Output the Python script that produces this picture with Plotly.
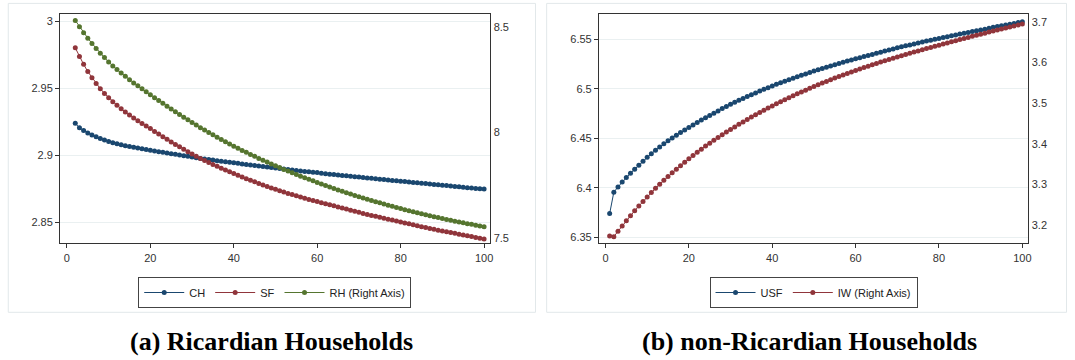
import plotly.graph_objects as go

# ---------------- data ----------------
t_left = list(range(2, 101))
t_right = list(range(1, 101))

CH = [2.9237, 2.9205, 2.9183, 2.9166, 2.9151, 2.9137, 2.9124, 2.9113, 2.9102,
      2.9093, 2.9085, 2.9078, 2.9071, 2.9065, 2.9059, 2.9053, 2.9047, 2.9042, 2.9037,
      2.9031, 2.9026, 2.9021, 2.9016, 2.9011, 2.9006, 2.9001, 2.8996, 2.8991, 2.8986,
      2.8981, 2.8976, 2.8971, 2.8967, 2.8963, 2.8959, 2.8955, 2.8951, 2.8947, 2.8943,
      2.8939, 2.8935, 2.8931, 2.8927, 2.8923, 2.8919, 2.8915, 2.8911, 2.8908, 2.8905,
      2.8901, 2.8897, 2.8893, 2.8889, 2.8885, 2.8882, 2.8879, 2.8876, 2.8873, 2.8870,
      2.8866, 2.8862, 2.8858, 2.8855, 2.8852, 2.8849, 2.8846, 2.8843, 2.8840, 2.8837,
      2.8833, 2.8830, 2.8827, 2.8824, 2.8821, 2.8818, 2.8815, 2.8812, 2.8809, 2.8806,
      2.8803, 2.8800, 2.8797, 2.8794, 2.8791, 2.8788, 2.8785, 2.8782, 2.8779, 2.8776,
      2.8773, 2.8770, 2.8767, 2.8764, 2.8761, 2.8758, 2.8755, 2.8752, 2.8749, 2.8747]

SF = [2.9800, 2.9735, 2.9677, 2.9623, 2.9577, 2.9534, 2.9495, 2.9460, 2.9428,
      2.9399, 2.9372, 2.9346, 2.9322, 2.9299, 2.9277, 2.9256, 2.9236, 2.9217, 2.9198,
      2.9177, 2.9157, 2.9137, 2.9118, 2.9099, 2.9080, 2.9062, 2.9044, 2.9026, 2.9008,
      2.8992, 2.8976, 2.8961, 2.8946, 2.8931, 2.8917, 2.8903, 2.8889, 2.8876, 2.8863,
      2.8850, 2.8837, 2.8825, 2.8813, 2.8801, 2.8789, 2.8778, 2.8767, 2.8756, 2.8745,
      2.8735, 2.8725, 2.8715, 2.8706, 2.8697, 2.8688, 2.8679, 2.8670, 2.8662, 2.8654,
      2.8646, 2.8638, 2.8630, 2.8622, 2.8614, 2.8606, 2.8598, 2.8590, 2.8582, 2.8574,
      2.8566, 2.8558, 2.8551, 2.8544, 2.8537, 2.8530, 2.8523, 2.8516, 2.8509, 2.8502,
      2.8495, 2.8488, 2.8481, 2.8474, 2.8467, 2.8460, 2.8453, 2.8447, 2.8441, 2.8435,
      2.8429, 2.8423, 2.8417, 2.8411, 2.8405, 2.8399, 2.8393, 2.8387, 2.8381, 2.8375]

RH = [8.530, 8.500, 8.472, 8.446, 8.421, 8.397, 8.375, 8.354, 8.333,
      8.314, 8.297, 8.281, 8.265, 8.249, 8.234, 8.220, 8.206, 8.192, 8.178,
      8.164, 8.150, 8.137, 8.123, 8.110, 8.097, 8.084, 8.071, 8.059, 8.046,
      8.034, 8.022, 8.011, 7.999, 7.988, 7.977, 7.966, 7.955, 7.945, 7.934,
      7.924, 7.914, 7.905, 7.895, 7.886, 7.876, 7.867, 7.859, 7.850, 7.841,
      7.833, 7.824, 7.816, 7.808, 7.800, 7.792, 7.784, 7.777, 7.770, 7.762,
      7.755, 7.748, 7.741, 7.734, 7.727, 7.721, 7.714, 7.708, 7.701, 7.695,
      7.689, 7.683, 7.677, 7.671, 7.666, 7.660, 7.654, 7.649, 7.644, 7.639,
      7.633, 7.628, 7.624, 7.619, 7.614, 7.609, 7.605, 7.600, 7.596, 7.592,
      7.587, 7.583, 7.579, 7.575, 7.571, 7.567, 7.564, 7.560, 7.556, 7.553]

USF = [6.3739, 6.3955, 6.4009, 6.4058, 6.4104, 6.4147, 6.4187, 6.4228, 6.4268, 6.4308,
       6.4345, 6.4380, 6.4413, 6.4444, 6.4474, 6.4503, 6.4531, 6.4558, 6.4584, 6.4609,
       6.4635, 6.4660, 6.4684, 6.4708, 6.4731, 6.4754, 6.4777, 6.4800, 6.4822, 6.4844,
       6.4864, 6.4884, 6.4903, 6.4922, 6.4941, 6.4959, 6.4977, 6.4995, 6.5012, 6.5029,
       6.5045, 6.5061, 6.5077, 6.5092, 6.5107, 6.5122, 6.5137, 6.5151, 6.5165, 6.5179,
       6.5192, 6.5205, 6.5218, 6.5231, 6.5244, 6.5256, 6.5268, 6.5280, 6.5292, 6.5304,
       6.5315, 6.5326, 6.5337, 6.5348, 6.5359, 6.5370, 6.5381, 6.5392, 6.5403, 6.5414,
       6.5424, 6.5434, 6.5444, 6.5454, 6.5464, 6.5473, 6.5482, 6.5491, 6.5500, 6.5509,
       6.5518, 6.5527, 6.5536, 6.5545, 6.5554, 6.5562, 6.5570, 6.5578, 6.5586, 6.5594,
       6.5603, 6.5612, 6.5621, 6.5629, 6.5637, 6.5645, 6.5653, 6.5661, 6.5669, 6.5677]

IW = [3.1729, 3.1714, 3.1845, 3.1976, 3.2105, 3.2230, 3.2350, 3.2467, 3.2580, 3.2690,
      3.2798, 3.2902, 3.3002, 3.3099, 3.3193, 3.3284, 3.3373, 3.3460, 3.3545, 3.3628,
      3.3709, 3.3788, 3.3865, 3.3940, 3.4013, 3.4084, 3.4153, 3.4220, 3.4286, 3.4350,
      3.4413, 3.4475, 3.4536, 3.4596, 3.4654, 3.4711, 3.4767, 3.4822, 3.4876, 3.4929,
      3.4981, 3.5032, 3.5082, 3.5131, 3.5179, 3.5226, 3.5272, 3.5317, 3.5362, 3.5406,
      3.5449, 3.5491, 3.5532, 3.5573, 3.5613, 3.5652, 3.5690, 3.5728, 3.5765, 3.5801,
      3.5837, 3.5872, 3.5907, 3.5941, 3.5974, 3.6007, 3.6039, 3.6071, 3.6102, 3.6133,
      3.6163, 3.6193, 3.6223, 3.6252, 3.6281, 3.6310, 3.6339, 3.6367, 3.6395, 3.6423,
      3.6451, 3.6479, 3.6506, 3.6533, 3.6560, 3.6587, 3.6614, 3.6641, 3.6667, 3.6693,
      3.6719, 3.6745, 3.6770, 3.6795, 3.6820, 3.6845, 3.6870, 3.6895, 3.6919, 3.6943]

x_ticks = [0, 20, 40, 60, 80, 100]
left_y_ticks = [2.85, 2.9, 2.95, 3]
left_y_labels = ["2.85", "2.9", "2.95", "3"]
left_y2_ticks = [7.5, 8, 8.5]
left_y2_labels = ["7.5", "8", "8.5"]
right_y_ticks = [6.35, 6.4, 6.45, 6.5, 6.55]
right_y_labels = ["6.35", "6.4", "6.45", "6.5", "6.55"]
right_y2_ticks = [3.2, 3.3, 3.4, 3.5, 3.6, 3.7]
right_y2_labels = ["3.2", "3.3", "3.4", "3.5", "3.6", "3.7"]

captions = ["<b>(a) Ricardian Households</b>", "<b>(b) non-Ricardian Households</b>"]

NAVY = "#1a476f"
MAROON = "#90353b"
GREEN = "#55752f"

W, H = 1075, 360

def px(x):
    return x / W

def py(y):
    return 1 - y / H

fig = go.Figure()

def add(x, y, name, color, xa, ya, legend):
    fig.add_trace(go.Scatter(
        x=x, y=y, name=name, mode="lines+markers",
        line=dict(color=color, width=1),
        marker=dict(color=color, size=5, symbol="circle"),
        xaxis=xa, yaxis=ya, legend=legend))

add(t_left, CH, "CH", NAVY, "x", "y", "legend")
add(t_left, SF, "SF", MAROON, "x", "y", "legend")
add(t_left, RH, "RH (Right Axis)", GREEN, "x", "y2", "legend")
add(t_right, USF, "USF", NAVY, "x2", "y3", "legend2")
add(t_right, IW, "IW (Right Axis)", MAROON, "x2", "y4", "legend2")

tickfont = dict(family="Liberation Sans, Arial", size=11, color="#333333")
AX = "#333333"
GRID = "#eaf0f1"

top, bottom = 14.3, 243.3
ydom = [py(bottom), py(top)]

xcommon = dict(tickvals=x_ticks, ticks="outside", ticklen=4, tickcolor=AX,
               showline=True, linecolor=AX, linewidth=1.2, mirror=True,
               showgrid=False, zeroline=False, tickfont=tickfont)

legend_common = dict(orientation="h", y=py(277), yanchor="top",
                     bordercolor="#444444", borderwidth=1, bgcolor="white",
                     font=dict(family="Liberation Sans, Arial", size=11, color="#222222"),
                     itemwidth=40, tracegroupgap=0)

fig.update_layout(
    width=W, height=H,
    margin=dict(l=0, r=0, t=0, b=0),
    paper_bgcolor="white", plot_bgcolor="white",
    xaxis=dict(domain=[px(60.3), px(491.7)], range=[-1.63, 101.5], anchor="y", **xcommon),
    yaxis=dict(domain=ydom, range=[2.8343, 3.005], tickvals=left_y_ticks, ticktext=left_y_labels,
               ticks="outside", ticklen=4, tickcolor=AX, showline=True, linecolor=AX, linewidth=1.2,
               showgrid=True, gridcolor=GRID, zeroline=False, tickfont=tickfont, anchor="x"),
    yaxis2=dict(domain=ydom, range=[7.474, 8.559], tickvals=left_y2_ticks, ticktext=left_y2_labels,
                overlaying="y", side="right", anchor="x", ticks="",
                showline=True, linecolor=AX, linewidth=1.2,
                showgrid=False, zeroline=False, tickfont=tickfont),
    xaxis2=dict(domain=[px(600.7), px(1031.3)], range=[-1.55, 101.46], anchor="y3", **xcommon),
    yaxis3=dict(domain=ydom, range=[6.3439, 6.5753], tickvals=right_y_ticks, ticktext=right_y_labels,
                ticks="outside", ticklen=4, tickcolor=AX, showline=True, linecolor=AX, linewidth=1.2,
                showgrid=True, gridcolor=GRID, zeroline=False, tickfont=tickfont, anchor="x2"),
    yaxis4=dict(domain=ydom, range=[3.155, 3.7182], tickvals=right_y2_ticks, ticktext=right_y2_labels,
                overlaying="y3", side="right", anchor="x2", ticks="",
                showline=True, linecolor=AX, linewidth=1.2,
                showgrid=False, zeroline=False, tickfont=tickfont),
    legend=dict(x=px(275.5), xanchor="center", **legend_common),
    legend2=dict(x=px(815.8), xanchor="center", **legend_common),
    shapes=[
        dict(type="rect", xref="paper", yref="paper", x0=px(8.3), x1=px(537), y0=py(312.3), y1=py(3.4),
             line=dict(color="#e2e8ea", width=1), layer="below"),
        dict(type="rect", xref="paper", yref="paper", x0=px(548.2), x1=px(1069.5), y0=py(312.3), y1=py(3.4),
             line=dict(color="#e2e8ea", width=1), layer="below"),
    ],
    annotations=[
        dict(text=captions[0], x=px(272.5), y=py(341), xref="paper", yref="paper",
             xanchor="center", yanchor="middle", showarrow=False,
             font=dict(family="Liberation Serif, Times New Roman", size=26, color="black")),
        dict(text=captions[1], x=px(812), y=py(341), xref="paper", yref="paper",
             xanchor="center", yanchor="middle", showarrow=False,
             font=dict(family="Liberation Serif, Times New Roman", size=26, color="black")),
    ],
)

fig.write_html("out.html", config={"displayModeBar": False},
               post_script="document.body.style.margin='0px';")
